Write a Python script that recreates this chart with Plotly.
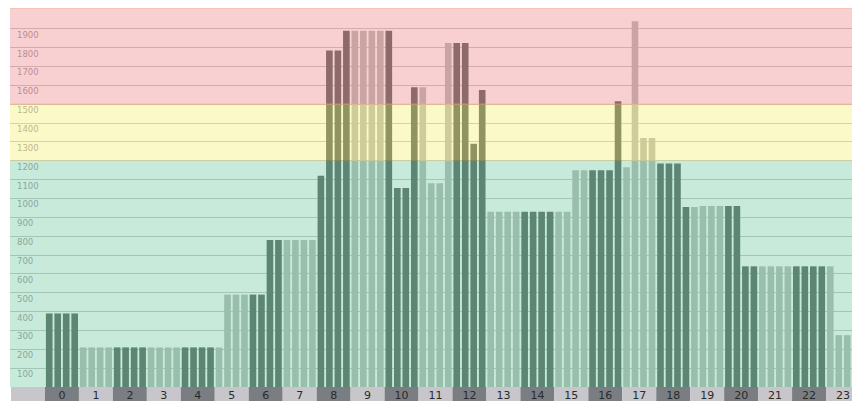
import plotly.graph_objects as go

# ---- data ----
hours = list(range(24))
hour_labels = [str(h) for h in hours]
# four quarter-hour values per hour
quarter_values = [
    [390, 390, 390, 390],      # 0
    [210, 210, 210, 210],      # 1
    [210, 210, 210, 210],      # 2
    [210, 210, 210, 210],      # 3
    [210, 210, 210, 210],      # 4
    [210, 490, 490, 490],      # 5
    [490, 490, 780, 780],      # 6
    [780, 780, 780, 780],      # 7
    [1120, 1785, 1785, 1890],  # 8
    [1890, 1890, 1890, 1890],  # 9
    [1890, 1055, 1055, 1590],  # 10
    [1590, 1080, 1080, 1825],  # 11
    [1825, 1825, 1290, 1575],  # 12
    [930, 930, 930, 930],      # 13
    [930, 930, 930, 930],      # 14
    [930, 930, 1150, 1150],    # 15
    [1150, 1150, 1150, 1515],  # 16
    [1165, 1940, 1320, 1320],  # 17
    [1185, 1185, 1185, 955],   # 18
    [955, 960, 960, 960],      # 19
    [960, 960, 640, 640],      # 20
    [640, 640, 640, 640],      # 21
    [640, 640, 640, 640],      # 22
    [640, 275, 275, 275],      # 23
]
y_ticks = list(range(100, 2000, 100))
band_limits = [0, 1200, 1500, 2010]
band_colors = ["rgba(145,213,183,0.5)", "rgba(249,243,145,0.5)", "rgba(241,161,165,0.5)"]

# ---- styling ----
DARK_BAR = "rgb(38,52,46)"
LIGHT_BAR = "rgb(163,167,160)"
DARK_CELL = "rgb(122,126,130)"
LIGHT_CELL = "rgb(198,198,203)"

xs, ys, cols = [], [], []
for h, vals in zip(hours, quarter_values):
    for k, v in enumerate(vals):
        xs.append(h + (k - 1.5) * 0.25)
        ys.append(v)
        cols.append(DARK_BAR if h % 2 == 0 else LIGHT_BAR)

fig = go.Figure(go.Bar(x=xs, y=ys, marker=dict(color=cols, line=dict(width=0)),
                       hoverinfo="skip", showlegend=False))

PLOT_H = 379
STRIP = 14
shapes = []
xmin, xmax = -1.53, 23.5
# axis label cells
for h in [-1] + hours:
    shapes.append(dict(type="rect", xref="x", yref="paper",
                       x0=max(h - 0.5, xmin), x1=h + 0.5, y0=-STRIP / PLOT_H, y1=0,
                       fillcolor=DARK_CELL if (h >= 0 and h % 2 == 0) else LIGHT_CELL,
                       line=dict(width=0), layer="below"))
# coloured bands over everything
for i, c in enumerate(band_colors):
    shapes.append(dict(type="rect", xref="paper", yref="y", x0=0, x1=1,
                       y0=band_limits[i], y1=band_limits[i + 1],
                       fillcolor=c, line=dict(width=0), layer="above"))
for yv in [band_limits[2], band_limits[3]]:
    shapes.append(dict(type="line", xref="paper", yref="y", x0=0, x1=1, y0=yv, y1=yv,
                       line=dict(color="rgba(240,175,130,0.7)", width=1), layer="above"))

fig.update_layout(
    width=852, height=PLOT_H + STRIP,
    margin=dict(l=2, r=0, t=0, b=STRIP, pad=0),
    paper_bgcolor="white", plot_bgcolor="white",
    bargap=0.22,
    shapes=shapes,
    xaxis=dict(range=[xmin, xmax], tickvals=hours, ticktext=hour_labels,
               showgrid=False, zeroline=False, showline=False, ticks="",
               tickfont=dict(family="DejaVu Sans", size=11, color="#2a2a2a")),
    yaxis=dict(range=[0, band_limits[-1]], tickvals=y_ticks, ticktext=[str(v) for v in y_ticks],
               showgrid=True, gridcolor="#b4b4b4", gridwidth=1, zeroline=False, showline=False,
               ticks="", ticklabelposition="inside", ticklabelstandoff=4, ticklabelshift=6,
               tickfont=dict(family="DejaVu Sans", size=8.5, color="#7a7a7a")),
)

fig.write_html("out.html")
